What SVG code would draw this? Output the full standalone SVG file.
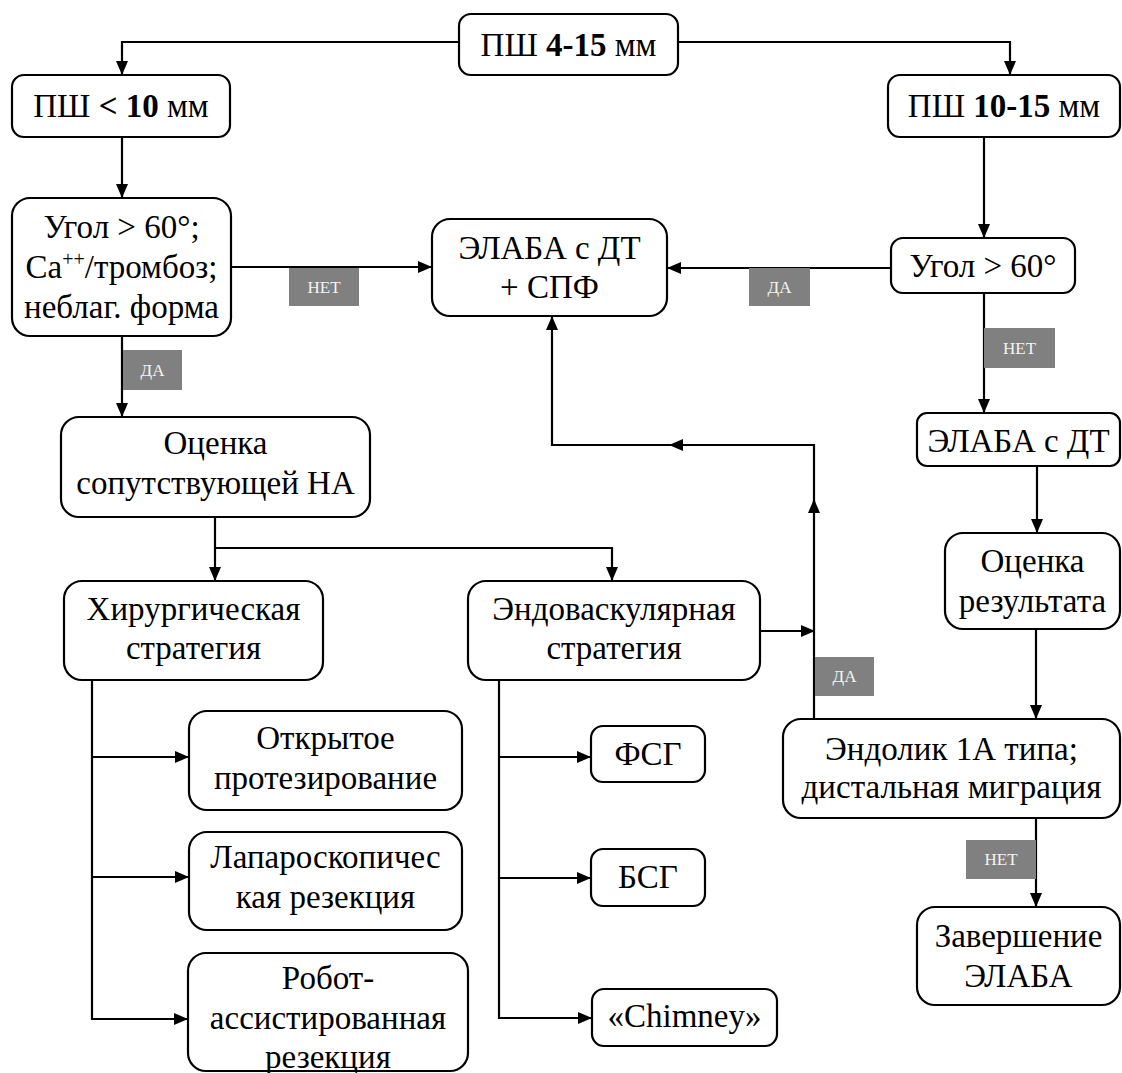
<svg xmlns="http://www.w3.org/2000/svg" width="1122" height="1073" viewBox="0 0 1122 1073">
<style>
.node rect{fill:#fff;stroke:#000;stroke-width:2.2}
.node text{font-family:'Liberation Serif','DejaVu Serif',serif;font-size:33px;fill:#000;text-anchor:middle}
.b{font-weight:bold}
.conn path{fill:none;stroke:#000;stroke-width:2.2}
.lbl rect{fill:#808080}
.lbl text{font-family:'Liberation Serif','DejaVu Serif',serif;font-size:17px;fill:#f4f4f4;text-anchor:middle}
</style>
<defs>
<marker id="ah" markerUnits="userSpaceOnUse" markerWidth="14" markerHeight="12" refX="13" refY="6" orient="auto" viewBox="0 0 14 12">
<path d="M0,0 L14,6 L0,12 z" fill="#000"/>
</marker>
</defs>
<rect width="1122" height="1073" fill="#fff"/>

<g class="conn" id="connectors">
<path d="M459,42 H122 V74" marker-end="url(#ah)"/>
<path d="M678,42 H1010 V74" marker-end="url(#ah)"/>
<path d="M122,137 V197" marker-end="url(#ah)"/>
<path d="M984,137 V237" marker-end="url(#ah)"/>
<path d="M231,267 H431" marker-end="url(#ah)"/>
<path d="M891,268 H668" marker-end="url(#ah)"/>
<path d="M122,336 V416" marker-end="url(#ah)"/>
<path d="M984,293 V412" marker-end="url(#ah)"/>
<path d="M1037,466 V532" marker-end="url(#ah)"/>
<path d="M215,517 V580" marker-end="url(#ah)"/>
<path d="M215,548 H612 V580" marker-end="url(#ah)"/>
<path d="M1036,629 V718" marker-end="url(#ah)"/>
<path d="M92,680 V1019 H187" marker-end="url(#ah)"/>
<path d="M92,757 H188" marker-end="url(#ah)"/>
<path d="M92,877 H188" marker-end="url(#ah)"/>
<path d="M499,680 V1018 H591" marker-end="url(#ah)"/>
<path d="M499,757 H590" marker-end="url(#ah)"/>
<path d="M499,878 H590" marker-end="url(#ah)"/>
<path d="M760,631 H814" marker-end="url(#ah)"/>
<path d="M814,719 V500" marker-end="url(#ah)"/>
<path d="M814,505 V445 H670" marker-end="url(#ah)"/>
<path d="M675,445 H552 V317" marker-end="url(#ah)"/>
<path d="M1036,818 V906" marker-end="url(#ah)"/>
</g>

<g class="lbl" id="labels">
<g id="lbl-no1"><rect x="289" y="268" width="70" height="38"/><text x="324" y="293">НЕТ</text></g>
<g id="lbl-yes1"><rect x="749" y="268" width="61" height="38"/><text x="779.5" y="293">ДА</text></g>
<g id="lbl-yes2"><rect x="123" y="350" width="59" height="40"/><text x="152.5" y="376">ДА</text></g>
<g id="lbl-no2"><rect x="984" y="328" width="71" height="40"/><text x="1019.5" y="354">НЕТ</text></g>
<g id="lbl-yes3"><rect x="815" y="657" width="59" height="39"/><text x="844.5" y="682">ДА</text></g>
<g id="lbl-no3"><rect x="966" y="840" width="70" height="39"/><text x="1001" y="865">НЕТ</text></g>
</g>

<g class="node" id="n-top"><rect x="459" y="14" width="219" height="61" rx="12"/><text x="568.5" y="56">ПШ <tspan class="b">4-15</tspan> мм</text></g>
<g class="node" id="n-lt10"><rect x="12" y="75" width="218" height="62" rx="12"/><text x="121" y="117">ПШ <tspan class="b">&lt; 10</tspan> мм</text></g>
<g class="node" id="n-10-15"><rect x="888" y="75" width="232" height="62" rx="12"/><text x="1004" y="117">ПШ <tspan class="b">10-15</tspan> мм</text></g>
<g class="node" id="n-angle1"><rect x="12" y="198" width="219" height="138" rx="18"/>
<text x="121.5" y="238">Угол &gt; 60°;</text>
<text x="121.5" y="278">Ca<tspan font-size="20" dy="-12">++</tspan><tspan dy="12">/тромбоз;</tspan></text>
<text x="121.5" y="318">неблаг. форма</text></g>
<g class="node" id="n-elaba-spf"><rect x="432" y="219" width="235" height="97" rx="18"/><text x="549.5" y="259">ЭЛАБА с ДТ</text><text x="549.5" y="298">+ СПФ</text></g>
<g class="node" id="n-angle2"><rect x="891" y="238" width="184" height="55" rx="12"/><text x="983" y="277">Угол &gt; 60°</text></g>
<g class="node" id="n-elaba-dt"><rect x="917" y="413" width="203" height="53" rx="10"/><text x="1018.5" y="452">ЭЛАБА с ДТ</text></g>
<g class="node" id="n-ocenka-na"><rect x="61" y="417" width="309" height="100" rx="18"/><text x="215.5" y="454">Оценка</text><text x="215.5" y="494">сопутствующей НА</text></g>
<g class="node" id="n-ocenka-res"><rect x="945" y="533" width="175" height="96" rx="18"/><text x="1032.5" y="572">Оценка</text><text x="1032.5" y="612">результата</text></g>
<g class="node" id="n-surg"><rect x="64" y="581" width="259" height="99" rx="18"/><text x="193.5" y="620">Хирургическая</text><text x="193.5" y="659">стратегия</text></g>
<g class="node" id="n-endo"><rect x="468" y="581" width="292" height="99" rx="18"/><text x="614" y="620">Эндоваскулярная</text><text x="614" y="659">стратегия</text></g>
<g class="node" id="n-open"><rect x="189" y="711" width="273" height="99" rx="18"/><text x="325.5" y="749">Открытое</text><text x="325.5" y="789">протезирование</text></g>
<g class="node" id="n-lap"><rect x="189" y="832" width="273" height="98" rx="18"/><text x="325.5" y="868">Лапароскопичес</text><text x="325.5" y="908">кая резекция</text></g>
<g class="node" id="n-robot"><rect x="188" y="953" width="280" height="118" rx="18"/><text x="328" y="989">Робот-</text><text x="328" y="1029">ассистированная</text><text x="328" y="1068">резекция</text></g>
<g class="node" id="n-fsg"><rect x="591" y="726" width="114" height="56" rx="12"/><text x="648" y="765">ФСГ</text></g>
<g class="node" id="n-bsg"><rect x="591" y="849" width="114" height="57" rx="12"/><text x="648" y="888">БСГ</text></g>
<g class="node" id="n-chimney"><rect x="592" y="989" width="185" height="57" rx="12"/><text x="684.5" y="1027">«Chimney»</text></g>
<g class="node" id="n-endoleak"><rect x="783" y="719" width="337" height="99" rx="18"/><text x="951.5" y="760">Эндолик 1А типа;</text><text x="951.5" y="798">дистальная миграция</text></g>
<g class="node" id="n-finish"><rect x="917" y="907" width="203" height="98" rx="18"/><text x="1018.5" y="947">Завершение</text><text x="1018.5" y="987">ЭЛАБА</text></g>
</svg>
